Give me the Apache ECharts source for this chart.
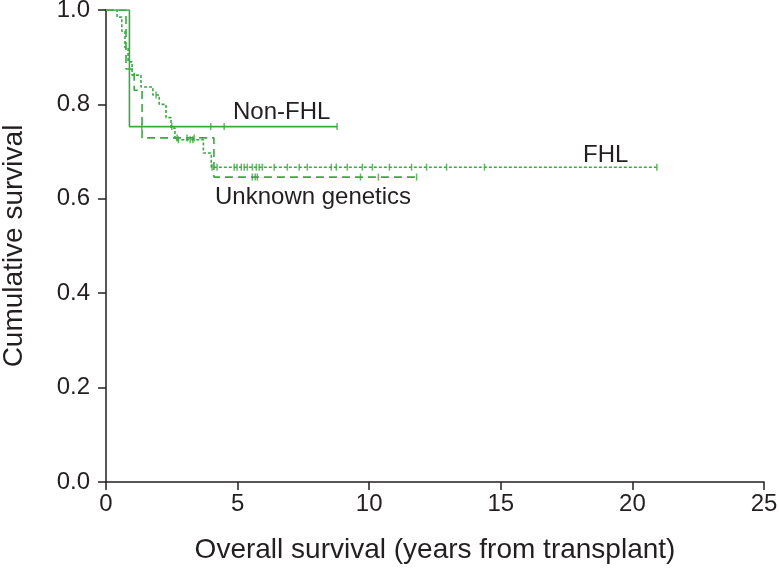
<!DOCTYPE html>
<html>
<head>
<meta charset="utf-8">
<script src="https://cdn.jsdelivr.net/npm/echarts@6/dist/echarts.min.js"></script>
<style>html,body{margin:0;padding:0;background:#fff;}#c{width:779px;height:572px;}</style>
</head>
<body>
<div id="c"></div>
<script>
// ---- data ----
const xTicks = [0, 5, 10, 15, 20, 25];
const yTicks = [0.0, 0.2, 0.4, 0.6, 0.8, 1.0];

const nonFhlTimes = [0, 0.89, 8.78];
const nonFhlSurv  = [1.0, 0.753, 0.753];
const nonFhlCensor = [1.36, 2.5, 3.98, 4.49, 8.78];

const fhlTimes = [0, 0.42, 0.6, 0.72, 0.84, 0.99, 1.33, 1.78, 2.02, 2.28, 2.47, 2.62, 3.7, 4.0, 20.93];
const fhlSurv  = [1.0, 0.985, 0.955, 0.92, 0.89, 0.862, 0.837, 0.82, 0.80, 0.772, 0.75, 0.725, 0.697, 0.667, 0.667];
const fhlCensor = [1.9, 2.75, 3.2, 3.3, 4.03, 4.22, 4.87, 4.98, 5.14, 5.25, 5.37, 5.56, 5.71, 5.82, 5.94,
  6.39, 6.89, 7.34, 7.65, 8.56, 8.75, 9.17, 9.74, 10.12, 10.77, 11.61, 12.18, 12.94, 14.38, 20.93];

const unkTimes = [0, 0.76, 1.07, 1.37, 4.1, 11.87];
const unkSurv  = [1.0, 0.875, 0.83, 0.729, 0.646, 0.646];
const unkCensor = [2.7, 3.08, 3.35, 5.56, 5.67, 5.75, 9.67, 10.35, 11.8];

// ---- helpers ----
const GREEN = '#3aa93f';
const DARK = '#231f20';
function pairs(t, s) { return t.map((v, i) => [v, s[i]]); }
function survAt(t, times, surv) {
  let v = surv[0];
  for (let i = 0; i < times.length; i++) { if (times[i] <= t) v = surv[i]; }
  return v;
}
function censorPts(c, times, surv) { return c.map(t => [t, survAt(t, times, surv)]); }

function stepSeries(name, t, s, dash) {
  return {
    name, type: 'line', step: 'end', data: pairs(t, s), showSymbol: false, symbol: 'none',
    lineStyle: { color: GREEN, width: 1.6, type: dash }, animation: false, z: 3
  };
}
function censorSeries(name, c, t, s) {
  return {
    name: name + ' censored', type: 'scatter', data: censorPts(c, t, s),
    symbol: 'rect', symbolSize: [1.5, 7], itemStyle: { color: GREEN }, animation: false, z: 4
  };
}

const chart = echarts.init(document.getElementById('c'), null, { renderer: 'canvas' });
const FONT = 'Liberation Sans, Arial, Helvetica, sans-serif';
chart.setOption({
  backgroundColor: '#fff',
  animation: false,
  grid: { left: 106, right: 15, top: 10, bottom: 90, containLabel: false, outerBoundsMode: 'none' },
  xAxis: {
    type: 'value', min: xTicks[0], max: xTicks[xTicks.length - 1], interval: 5,
    axisLine: { show: true, lineStyle: { color: DARK, width: 1.5 } },
    axisTick: { show: true, inside: false, length: 8, lineStyle: { color: DARK, width: 1.5 } },
    splitLine: { show: false },
    axisLabel: { color: DARK, fontSize: 24, fontFamily: FONT, margin: 10 },
    name: 'Overall survival (years from transplant)', nameLocation: 'middle', nameGap: 54,
    nameTextStyle: { color: DARK, fontSize: 28, fontFamily: FONT }
  },
  yAxis: {
    type: 'value', min: yTicks[0], max: yTicks[yTicks.length - 1], interval: 0.2,
    axisLine: { show: true, lineStyle: { color: DARK, width: 1.5 } },
    axisTick: { show: true, inside: false, length: 8, lineStyle: { color: DARK, width: 1.5 } },
    splitLine: { show: false },
    axisLabel: { color: DARK, fontSize: 24, fontFamily: FONT, margin: 16, formatter: v => v.toFixed(1) },
    name: 'Cumulative survival', nameLocation: 'middle', nameGap: 78,
    nameTextStyle: { color: DARK, fontSize: 28, fontFamily: FONT }
  },
  series: [
    stepSeries('Non-FHL', nonFhlTimes, nonFhlSurv, 'solid'),
    stepSeries('FHL', fhlTimes, fhlSurv, [3, 2]),
    stepSeries('Unknown genetics', unkTimes, unkSurv, [8, 5]),
    censorSeries('Non-FHL', nonFhlCensor, nonFhlTimes, nonFhlSurv),
    censorSeries('FHL', fhlCensor, fhlTimes, fhlSurv),
    censorSeries('Unknown genetics', unkCensor, unkTimes, unkSurv)
  ],
  graphic: [
    { type: 'text', left: 233, top: 100, style: { text: 'Non-FHL', fill: DARK, font: '24px ' + FONT } },
    { type: 'text', left: 583, top: 143, style: { text: 'FHL', fill: DARK, font: '24px ' + FONT } },
    { type: 'text', left: 215, top: 185, style: { text: 'Unknown genetics', fill: DARK, font: '24px ' + FONT } }
  ]
});
</script>
</body>
</html>
